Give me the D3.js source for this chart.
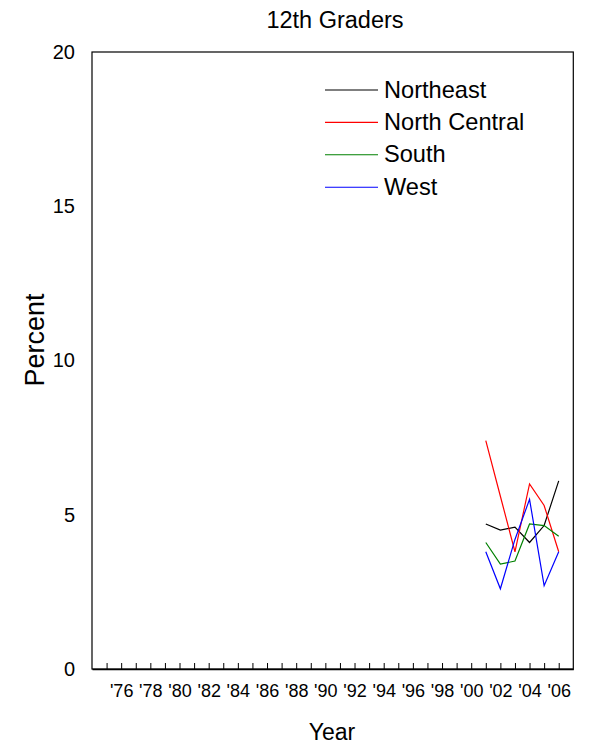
<!DOCTYPE html>
<html>
<head>
<meta charset="utf-8">
<script src="https://cdn.jsdelivr.net/npm/d3@7"></script>
<style>
  html, body { margin: 0; padding: 0; background: #fff; }
  svg { display: block; font-family: "Liberation Sans", Arial, sans-serif; }
</style>
</head>
<body>
<script>
const years = [2001, 2002, 2003, 2004, 2005, 2006];
const northeast = [4.7, 4.5, 4.6, 4.1, 4.65, 6.1];
const northCentral = [7.4, 5.6, 3.8, 6.0, 5.3, 3.8];
const south = [4.1, 3.4, 3.5, 4.7, 4.65, 4.3];
const west = [3.8, 2.6, 4.2, 5.5, 2.7, 3.8];
const seriesNames = ["Northeast", "North Central", "South", "West"];
const seriesColors = ["#000000", "#ff0000", "#008000", "#0000ff"];
const yTicks = [0, 5, 10, 15, 20];
const minorYears = d3.range(1975, 2007);
const labelYears = d3.range(1976, 2007, 2);

const W = 591, H = 748;
const svg = d3.select("body").append("svg").attr("width", W).attr("height", H);

const x = d3.scaleLinear().domain([1974, 2007]).range([92, 573.3]);
const y = d3.scaleLinear().domain([0, 20]).range([669, 52]);

// frame
svg.append("rect")
  .attr("x", x(1974)).attr("y", y(20))
  .attr("width", x(2007) - x(1974)).attr("height", y(0) - y(20))
  .attr("fill", "none").attr("stroke", "#000").attr("stroke-width", 1.2);

// inward minor ticks on x
const xTickAxis = d3.axisBottom(x).tickValues(minorYears).tickSizeInner(-6).tickSizeOuter(0).tickFormat("");
svg.append("g").attr("transform", `translate(0,${y(0)})`).call(xTickAxis)
  .call(g => g.select(".domain").attr("stroke-width", 1.6))
  .call(g => g.selectAll(".tick line").attr("stroke-width", 1));

// x labels
const xLabelAxis = d3.axisBottom(x).tickValues(labelYears).tickSize(0).tickPadding(0)
  .tickFormat(d => "'" + String(d).slice(2));
svg.append("g").attr("transform", `translate(0,${y(0)})`).call(xLabelAxis)
  .call(g => g.select(".domain").remove())
  .call(g => g.selectAll("text").attr("font-size", 18).attr("fill", "#000")
    .attr("font-family", "Liberation Sans, Arial, sans-serif")
    .attr("dy", null).attr("y", 28));

// y labels
const yAxis = d3.axisLeft(y).tickValues(yTicks).tickSize(0).tickPadding(17);
svg.append("g").attr("transform", `translate(${x(1974)},0)`).call(yAxis)
  .call(g => g.select(".domain").remove())
  .call(g => g.selectAll("text").attr("font-size", 20).attr("fill", "#000")
    .attr("font-family", "Liberation Sans, Arial, sans-serif"));

// lines
const allSeries = [northeast, northCentral, south, west];
const line = d3.line().x((d, i) => x(years[i])).y(d => y(d));
allSeries.forEach((s, k) => {
  svg.append("path").datum(s).attr("d", line)
    .attr("fill", "none").attr("stroke", seriesColors[k]).attr("stroke-width", 1.2);
});

// title & axis titles
svg.append("text").attr("x", 335).attr("y", 28).attr("text-anchor", "middle")
  .attr("font-size", 23.5).text("12th Graders");
svg.append("text").attr("x", 332).attr("y", 740).attr("text-anchor", "middle")
  .attr("font-size", 23).text("Year");
svg.append("text").attr("transform", "translate(44,340) rotate(-90)")
  .attr("text-anchor", "middle").attr("font-size", 27).text("Percent");

// legend
const legend = svg.append("g");
seriesNames.forEach((name, k) => {
  const ly = 90 + k * 32.4;
  legend.append("line").attr("x1", 325).attr("x2", 378).attr("y1", ly).attr("y2", ly)
    .attr("stroke", seriesColors[k]).attr("stroke-width", 1.1);
  legend.append("text").attr("x", 384).attr("y", ly + 7.5).attr("font-size", 23.6).text(name);
});
</script>
</body>
</html>
